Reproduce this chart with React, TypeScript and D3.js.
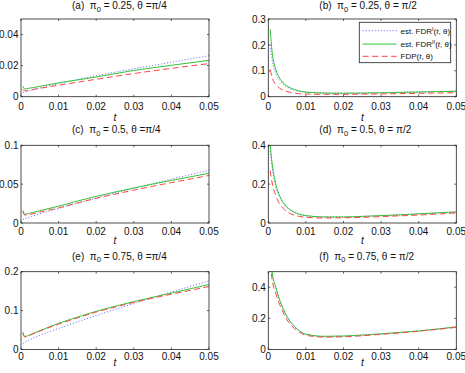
import React from 'react';
import * as d3 from 'd3';

// threshold grid t
const tGrid = [0.0005, 0.001, 0.002, 0.003, 0.004, 0.005, 0.006, 0.008, 0.01, 0.015, 0.02, 0.025, 0.03, 0.035, 0.04, 0.045, 0.05];

// (a) pi0 = 0.25, theta = pi/4
const fdr1A = [0.0028, 0.003, 0.0037, 0.0044, 0.005, 0.0056, 0.0062, 0.0073, 0.0084, 0.011, 0.0135, 0.0158, 0.018, 0.0201, 0.0222, 0.0243, 0.0264];
const fdr2A = [0.0068, 0.005, 0.0054, 0.0058, 0.0062, 0.0067, 0.0071, 0.008, 0.0089, 0.0108, 0.0127, 0.0148, 0.0169, 0.0186, 0.0202, 0.0218, 0.0234];
const fdpA = [0.0048, 0.0038, 0.0042, 0.0046, 0.005, 0.0054, 0.0058, 0.0066, 0.0074, 0.0093, 0.0112, 0.0131, 0.0149, 0.0166, 0.0182, 0.0198, 0.0213];

// (b) pi0 = 0.25, theta = pi/2
const fdr1B = [0.2, 0.145, 0.09, 0.063, 0.047, 0.037, 0.03, 0.021, 0.017, 0.014, 0.0135, 0.014, 0.0155, 0.017, 0.0185, 0.02, 0.022];
const fdr2B = [0.26, 0.175, 0.105, 0.072, 0.053, 0.041, 0.033, 0.023, 0.018, 0.014, 0.0135, 0.014, 0.015, 0.0165, 0.018, 0.0195, 0.021];
const fdpB = [0.105, 0.075, 0.047, 0.033, 0.025, 0.02, 0.016, 0.012, 0.0105, 0.0092, 0.0092, 0.0098, 0.0107, 0.0118, 0.013, 0.0143, 0.0157];

// (c) pi0 = 0.5, theta = pi/4
const fdr1C = [0.0045, 0.0055, 0.0072, 0.0088, 0.0103, 0.0118, 0.0132, 0.016, 0.0188, 0.0255, 0.032, 0.0385, 0.0447, 0.0507, 0.0565, 0.0622, 0.068];
const fdr2C = [0.016, 0.0112, 0.0122, 0.0134, 0.0146, 0.0158, 0.017, 0.0193, 0.0216, 0.0282, 0.0343, 0.0398, 0.045, 0.05, 0.0548, 0.0594, 0.064];
const fdpC = [0.015, 0.0102, 0.0108, 0.0118, 0.0129, 0.014, 0.0151, 0.0173, 0.0195, 0.0258, 0.0318, 0.0372, 0.0423, 0.0472, 0.052, 0.0565, 0.0612];

// (d) pi0 = 0.5, theta = pi/2
const fdr1D = [0.37, 0.29, 0.19, 0.135, 0.1, 0.079, 0.064, 0.046, 0.037, 0.031, 0.031, 0.034, 0.038, 0.042, 0.047, 0.052, 0.057];
const fdr2D = [0.4, 0.31, 0.2, 0.14, 0.105, 0.082, 0.066, 0.047, 0.038, 0.031, 0.031, 0.034, 0.038, 0.042, 0.047, 0.052, 0.057];
const fdpD = [0.27, 0.21, 0.14, 0.098, 0.074, 0.058, 0.047, 0.035, 0.029, 0.026, 0.027, 0.029, 0.033, 0.037, 0.041, 0.046, 0.052];

// (e) pi0 = 0.75, theta = pi/4
const fdr1E = [0.015, 0.018, 0.023, 0.028, 0.032, 0.036, 0.04, 0.047, 0.054, 0.071, 0.087, 0.103, 0.118, 0.133, 0.148, 0.162, 0.176];
const fdr2E = [0.045, 0.033, 0.036, 0.04, 0.044, 0.048, 0.052, 0.06, 0.067, 0.083, 0.098, 0.111, 0.123, 0.134, 0.145, 0.156, 0.167];
const fdpE = [0.042, 0.032, 0.035, 0.039, 0.043, 0.047, 0.051, 0.058, 0.065, 0.081, 0.096, 0.109, 0.121, 0.132, 0.142, 0.152, 0.162];

// (f) pi0 = 0.75, theta = pi/2
const fdr1F = [0.6, 0.49, 0.395, 0.315, 0.255, 0.206, 0.172, 0.123, 0.097, 0.084, 0.086, 0.092, 0.1, 0.109, 0.119, 0.131, 0.145];
const fdr2F = [0.62, 0.5, 0.4, 0.32, 0.26, 0.21, 0.175, 0.125, 0.098, 0.084, 0.086, 0.092, 0.1, 0.109, 0.119, 0.131, 0.145];
const fdpF = [0.55, 0.45, 0.36, 0.29, 0.235, 0.19, 0.158, 0.115, 0.091, 0.079, 0.081, 0.088, 0.097, 0.106, 0.117, 0.129, 0.142];

const xTicks = [0, 0.01, 0.02, 0.03, 0.04, 0.05];
const tags = ['(a)', '(b)', '(c)', '(d)', '(e)', '(f)'];
const pi0s = ['0.25', '0.25', '0.5', '0.5', '0.75', '0.75'];
const thetas = ['=π/4', '= π/2', '=π/4', '= π/2', '=π/4', '= π/2'];
const yMaxes = [0.05, 0.3, 0.1, 0.4, 0.2, 0.5];
const yTickSets = [[0, 0.02, 0.04], [0, 0.1, 0.2, 0.3], [0, 0.05, 0.1], [0, 0.2, 0.4], [0, 0.1, 0.2], [0, 0.2, 0.4]];
const fdr1s = [fdr1A, fdr1B, fdr1C, fdr1D, fdr1E, fdr1F];
const fdr2s = [fdr2A, fdr2B, fdr2C, fdr2D, fdr2E, fdr2F];
const fdps = [fdpA, fdpB, fdpC, fdpD, fdpE, fdpF];

const FONT = '"Liberation Sans", Arial, Helvetica, sans-serif';
const BLUE = '#5566ff';
const GREEN = '#33c233';
const RED = '#ff4444';

const colX = [21, 268.3];
const rowY = [19, 145.3, 271.7];
const PW = 188;
const PH = 77.7;
const TICK = 2;
// per-row offsets of tick labels, x label and title (the figure is squeezed at the bottom)
const tickOff = [13, 12, 11];
const labOff = [24, 20.5, 17];
const titleOff = [10, 12, 12];

const styles = [
  { color: BLUE, dash: '1,2' },
  { color: GREEN, dash: undefined },
  { color: RED, dash: '6,3.5' },
];

const fmt = d3.format('~g');

const Panel = ({ i }: { i: number }) => {
  const row = Math.floor(i / 2);
  const left = colX[i % 2];
  const top = rowY[row];
  const x = d3.scaleLinear().domain([0, 0.05]).range([left, left + PW]);
  const y = d3.scaleLinear().domain([0, yMaxes[i]]).range([top + PH, top]);
  const line = d3.line<number>()
    .x((_, k) => x(tGrid[k]))
    .y(d => y(d))
    .curve(d3.curveMonotoneX);
  const series = [fdr1s[i], fdr2s[i], fdps[i]];
  const clipId = `clip-${i}`;
  return (
    <g>
      <defs>
        <clipPath id={clipId}>
          <rect x={left} y={top} width={PW} height={PH} />
        </clipPath>
      </defs>
      <g clipPath={`url(#${clipId})`}>
        {series.map((s, k) => (
          <path key={k} d={line(s) || ''} fill="none" stroke={styles[k].color}
            strokeWidth={1} strokeDasharray={styles[k].dash} />
        ))}
      </g>
      <rect x={left} y={top} width={PW} height={PH} fill="none" stroke="#222" strokeWidth={0.8} />
      {xTicks.map(t => (
        <g key={t}>
          <line x1={x(t)} x2={x(t)} y1={top + PH} y2={top + PH - TICK} stroke="#222" strokeWidth={0.7} />
          <line x1={x(t)} x2={x(t)} y1={top} y2={top + TICK} stroke="#222" strokeWidth={0.7} />
          <text x={x(t)} y={top + PH + tickOff[row]} textAnchor="middle" fontSize={10} fill="#111">{fmt(t)}</text>
        </g>
      ))}
      {yTickSets[i].map(v => (
        <g key={v}>
          <line x1={left} x2={left + TICK} y1={y(v)} y2={y(v)} stroke="#222" strokeWidth={0.7} />
          <line x1={left + PW} x2={left + PW - TICK} y1={y(v)} y2={y(v)} stroke="#222" strokeWidth={0.7} />
          <text x={left - 2.5} y={y(v) + 3.6} textAnchor="end" fontSize={10} fill="#111">{fmt(v)}</text>
        </g>
      ))}
      <text x={x(0.025)} y={top + PH + labOff[row]} textAnchor="middle" fontSize={10} fontStyle="italic" fill="#111">t</text>
      <text x={left + 51} y={top - titleOff[row]} fontSize={10} fill="#111">
        {tags[i]}{'\u00a0\u00a0'}π<tspan dy={2.5} fontSize={7.5}>0</tspan>
        <tspan dy={-2.5}>{` = ${pi0s[i]}, θ ${thetas[i]}`}</tspan>
      </text>
    </g>
  );
};

const legendItems = [
  { main: 'est. FDR', sup: 'I' },
  { main: 'est. FDR', sup: 'II' },
  { main: 'FDP', sup: '' },
];

const Legend = () => {
  const lx = 359.3, ly = 22.3, lw = 91.4, lh = 40.4;
  const rows = [30.7, 44.1, 56.3];
  return (
    <g>
      <rect x={lx} y={ly} width={lw} height={lh} fill="#fff" stroke="#222" strokeWidth={0.8} />
      {legendItems.map((it, k) => (
        <g key={k}>
          <line x1={362.7} x2={396.7} y1={rows[k]} y2={rows[k]} stroke={styles[k].color}
            strokeWidth={1} strokeDasharray={styles[k].dash} />
          <text x={400.5} y={rows[k] + 2.9} fontSize={8} fill="#111">
            {it.main}
            {it.sup ? <tspan dy={-3} fontSize={5.5}>{it.sup}</tspan> : null}
            <tspan dy={it.sup ? 3 : 0}>(</tspan>
            <tspan fontStyle="italic">t</tspan>, θ)
          </text>
        </g>
      ))}
    </g>
  );
};

export default function App() {
  return (
    <svg width={465} height={373} fontFamily={FONT}
      style={{ position: 'absolute', left: 0, top: 0, background: '#fff' }}>
      {tags.map((_, i) => <Panel key={i} i={i} />)}
      <Legend />
    </svg>
  );
}
